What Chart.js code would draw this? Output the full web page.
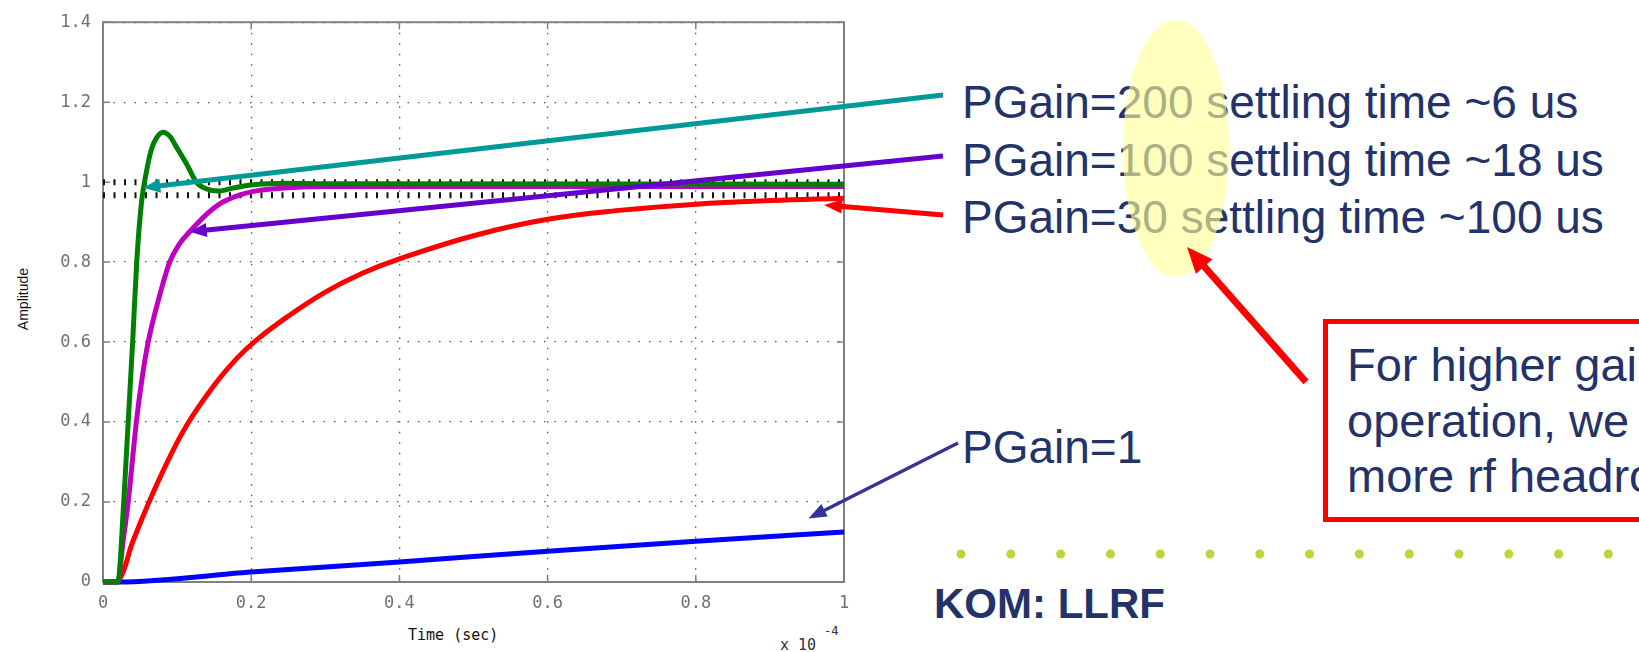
<!DOCTYPE html>
<html>
<head>
<meta charset="utf-8">
<script src="https://cdn.jsdelivr.net/npm/chart.js@4.4.1/dist/chart.umd.min.js"></script>
<style>
  html, body { margin: 0; padding: 0; background: #fff; }
  #slide { position: relative; width: 1639px; height: 652px; overflow: hidden; background: #fff; }
  #plot { position: absolute; left: 0; top: 0; z-index: 5; }
  .note { position: absolute; white-space: nowrap; font-family: "Liberation Sans", Arial, sans-serif;
          font-size: 46px; line-height: 46px; color: #233369; }
  .axis-text { position: absolute; white-space: nowrap; color: #111; }
  #highlight { position: absolute; left: 1123px; top: 20px; width: 106px; height: 257px;
               border-radius: 50%; background: rgba(255, 255, 150, 0.62); }
  #callout-box { position: absolute; left: 1323px; top: 319px; width: 420px; height: 203px;
                 box-sizing: border-box; border: 5px solid #ff0000; }
</style>
</head>
<body>
<div id="slide">
  <div class="note" style="left:962px; top:79px;">PGain=200 settling time ~6 us</div>
  <div class="note" style="left:962px; top:137px;">PGain=100 settling time ~18 us</div>
  <div class="note" style="left:962px; top:194px;">PGain=30 settling time ~100 us</div>
  <div class="note" style="left:962px; top:424px;">PGain=1</div>
  <div id="highlight"></div>

  <div id="callout-box"></div>
  <div class="note" style="left:1347px; top:342px; font-size:47px;">For higher gain</div>
  <div class="note" style="left:1347px; top:398px; font-size:47px;">operation, we need</div>
  <div class="note" style="left:1347px; top:453px; font-size:47px;">more rf headroom</div>

  <div class="note" style="left:934px; top:583px; font-size:42px; line-height:42px; font-weight:bold;">KOM: LLRF</div>

  <div class="axis-text" style="left:23px; top:299px; font-family:'Liberation Sans', Arial, sans-serif; font-size:14px; line-height:14px; transform: translate(-50%, -50%) rotate(-90deg);">Amplitude</div>
  <div class="axis-text" style="left:408px; top:627px; font-family:'DejaVu Sans Mono', monospace; font-size:15px; line-height:16px;">Time (sec)</div>
  <div class="axis-text" style="left:780px; top:637px; font-family:'DejaVu Sans Mono', monospace; font-size:15px; line-height:16px; color:#333;">x 10</div>
  <div class="axis-text" style="left:824px; top:625px; font-family:'DejaVu Sans Mono', monospace; font-size:12px; line-height:13px; color:#333;">-4</div>

  <canvas id="plot" width="1639" height="652"></canvas>
</div>

<script>
// time is in units of 1e-4 s, as on the plot's x axis
const xTickValues = [0, 0.2, 0.4, 0.6, 0.8, 1];
const yTickValues = [0, 0.2, 0.4, 0.6, 0.8, 1, 1.2, 1.4];

// step responses
const gain200Time = [0, 0.02, 0.028, 0.034, 0.040, 0.0455, 0.052, 0.058, 0.065, 0.072, 0.081, 0.09, 0.10, 0.113, 0.126, 0.14, 0.156, 0.175, 0.2, 0.25, 0.3, 1.0];
const gain200Amp  = [0, 0, 0.2, 0.4, 0.6, 0.8, 0.95, 1.02, 1.08, 1.11, 1.125, 1.115, 1.085, 1.045, 1.0, 0.983, 0.978, 0.985, 0.993, 0.997, 0.996, 0.995];

const gain100Time = [0, 0.02, 0.027, 0.034, 0.045, 0.052, 0.061, 0.074, 0.09, 0.103, 0.117, 0.14, 0.158, 0.18, 0.203, 0.25, 0.3, 1.0];
const gain100Amp  = [0, 0, 0.1, 0.2, 0.4, 0.5, 0.6, 0.7, 0.8, 0.845, 0.876, 0.92, 0.946, 0.965, 0.977, 0.986, 0.989, 0.989];

const gain30Time = [0, 0.02, 0.04, 0.061, 0.085, 0.113, 0.15, 0.18, 0.207, 0.25, 0.3, 0.35, 0.4, 0.5, 0.6, 0.7, 0.8, 0.9, 1.0];
const gain30Amp  = [0, 0, 0.1, 0.195, 0.293, 0.392, 0.492, 0.558, 0.605, 0.665, 0.725, 0.772, 0.808, 0.866, 0.907, 0.93, 0.945, 0.954, 0.960];

const gain1Time = [0, 0.02, 0.2, 0.4, 0.6, 0.8, 1.0];
const gain1Amp  = [0, 0, 0.025, 0.05, 0.077, 0.102, 0.125];

// the two dotted settling lines
const settleLevels = [1.0, 0.967];

// callout arrows: tail in page pixels, tip in data units
const calloutArrows = [
  { color: '#009999', width: 5, head: 17, spread: 7, from: [943, 95], at: [0.0544, 0.986] },
  { color: '#6600cc', width: 5, head: 17, spread: 7, from: [943, 156], at: [0.117, 0.876] },
  { color: '#ff0000', width: 5, head: 18, spread: 7, from: [943, 215], at: [0.973, 0.943] },
  { color: '#333399', width: 3.5, head: 18, spread: 7, from: [958, 443], at: [0.952, 0.159] }
];

const toPoints = (ts, vs) => ts.map((t, i) => ({ x: t, y: vs[i] }));

const curve = (label, ts, vs, color, order, smooth) => ({
  label: label,
  data: toPoints(ts, vs),
  borderColor: color,
  borderWidth: 5,
  pointRadius: 0,
  cubicInterpolationMode: smooth ? 'default' : 'monotone',
  tension: smooth ? 0.4 : 0,
  borderCapStyle: 'butt',
  borderJoinStyle: 'round',
  clip: false,
  order: order
});

const settleSets = settleLevels.map(level => ({
  label: 'settle ' + level,
  data: [{ x: xTickValues[0], y: level }, { x: xTickValues[xTickValues.length - 1], y: level }],
  borderColor: '#111',
  borderWidth: 6,
  borderDash: [2, 8.5],
  borderCapStyle: 'butt',
  pointRadius: 0,
  order: 10
}));

function drawArrow(ctx, x1, y1, x2, y2, a) {
  const ang = Math.atan2(y2 - y1, x2 - x1);
  const bx = x2 - Math.cos(ang) * a.head;
  const by = y2 - Math.sin(ang) * a.head;
  ctx.save();
  ctx.strokeStyle = a.color;
  ctx.fillStyle = a.color;
  ctx.lineWidth = a.width;
  ctx.lineCap = 'butt';
  ctx.beginPath();
  ctx.moveTo(x1, y1);
  ctx.lineTo(bx + Math.cos(ang) * 2, by + Math.sin(ang) * 2);
  ctx.stroke();
  const nx = -Math.sin(ang), ny = Math.cos(ang);
  ctx.beginPath();
  ctx.moveTo(x2, y2);
  ctx.lineTo(bx + nx * a.spread, by + ny * a.spread);
  ctx.lineTo(bx - nx * a.spread, by - ny * a.spread);
  ctx.closePath();
  ctx.fill();
  ctx.restore();
}

const slideOverlay = {
  id: 'slideOverlay',
  beforeDatasetsDraw(chart) {
    const { ctx, chartArea: a, scales: { x, y } } = chart;
    ctx.save();
    ctx.strokeStyle = '#808080';
    ctx.lineWidth = 2;
    ctx.strokeRect(a.left, a.top, a.right - a.left, a.bottom - a.top);
    // inward tick marks on all four sides
    ctx.lineWidth = 1.5;
    ctx.beginPath();
    xTickValues.forEach(v => {
      const px = x.getPixelForValue(v);
      ctx.moveTo(px, a.bottom); ctx.lineTo(px, a.bottom - 7);
      ctx.moveTo(px, a.top); ctx.lineTo(px, a.top + 7);
    });
    yTickValues.forEach(v => {
      const py = y.getPixelForValue(v);
      ctx.moveTo(a.left, py); ctx.lineTo(a.left + 7, py);
      ctx.moveTo(a.right, py); ctx.lineTo(a.right - 7, py);
    });
    ctx.stroke();
    ctx.restore();
  },
  afterDraw(chart) {
    const { ctx, scales: { x, y } } = chart;
    calloutArrows.forEach(a => {
      drawArrow(ctx, a.from[0], a.from[1], x.getPixelForValue(a.at[0]), y.getPixelForValue(a.at[1]), a);
    });
    // big red arrow from the box up to the highlighted gains
    drawArrow(ctx, 1306, 382, 1187, 247, { color: '#ff0000', width: 7, head: 26, spread: 11 });

    // slide decoration: row of dots
    ctx.save();
    ctx.fillStyle = '#bcd53a';
    for (let px = 961; px < 1645; px += 49.8) {
      ctx.beginPath();
      ctx.arc(px, 554, 4.5, 0, Math.PI * 2);
      ctx.fill();
    }
    ctx.restore();
  }
};

const tickFont = { family: '"DejaVu Sans Mono", monospace', size: 17 };
const fmt = v => String(Math.round(v * 10) / 10);

new Chart(document.getElementById('plot'), {
  type: 'line',
  data: {
    datasets: [
      curve('PGain=200', gain200Time, gain200Amp, '#008000', 0, false),
      curve('PGain=100', gain100Time, gain100Amp, '#c000c0', 1, false),
      curve('PGain=30', gain30Time, gain30Amp, '#ff0000', 2, true),
      curve('PGain=1', gain1Time, gain1Amp, '#0000ff', 3, false),
      ...settleSets
    ]
  },
  options: {
    responsive: false,
    animation: false,
    events: [],
    layout: { padding: { left: 0, top: 16, right: 795, bottom: 0 } },
    plugins: { legend: { display: false }, tooltip: { enabled: false } },
    scales: {
      x: {
        type: 'linear',
        min: 0,
        max: 1,
        afterBuildTicks: s => { s.ticks = xTickValues.map(v => ({ value: v })); },
        afterFit: s => { s.height = 70; },
        grid: { color: '#555', lineWidth: 1.3, drawTicks: false },
        border: { display: false, dash: [1.5, 9] },
        ticks: { font: tickFont, color: '#707070', padding: 11, autoSkip: false, maxRotation: 0, callback: fmt }
      },
      y: {
        type: 'linear',
        min: 0,
        max: 1.4,
        afterBuildTicks: s => { s.ticks = yTickValues.map(v => ({ value: v })); },
        afterFit: s => { s.width = 103; },
        grid: { color: '#555', lineWidth: 1.3, drawTicks: false },
        border: { display: false, dash: [1.5, 9] },
        ticks: { font: tickFont, color: '#707070', padding: 12, callback: fmt }
      }
    }
  },
  plugins: [slideOverlay]
});
</script>
</body>
</html>
